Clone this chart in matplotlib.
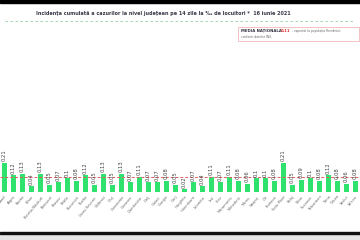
import matplotlib.pyplot as plt
import matplotlib.patches as patches
import numpy as np

# judete (ordine alfabetica), valorile
judete = ['Arad', 'Argeș', 'Bacău', 'Bihor', 'Bistrița-Năsăud', 'Botoșani',
          'Brașov', 'Brăila', 'București', 'Buzău', 'Caraș-Severin', 'Călărași',
          'Cluj', 'Constanța', 'Covasna', 'Dâmbovița', 'Dolj', 'Galați',
          'Giurgiu', 'Gorj', 'Harghita', 'Hunedoara', 'Ialomița', 'Iași',
          'Ilfov', 'Maramureș', 'Mehedinți', 'Mureș', 'Neamț', 'Olt',
          'Prahova', 'Satu Mare', 'Sălaj', 'Sibiu', 'Suceava', 'Teleorman',
          'Timiș', 'Tulcea', 'Vaslui', 'Vâlcea']
incidenta = [0.21, 0.12, 0.13, 0.04, 0.13, 0.05, 0.07, 0.10, 0.08, 0.12,
             0.05, 0.13, 0.05, 0.13, 0.07, 0.11, 0.07, 0.07, 0.08, 0.05,
             0.02, 0.07, 0.04, 0.11, 0.07, 0.11, 0.08, 0.06, 0.10, 0.10,
             0.08, 0.21, 0.05, 0.09, 0.10, 0.08, 0.12, 0.08, 0.06, 0.08]
media_nationala = 0.11

title = 'Incidența cumulată a cazurilor la nivel județean pe 14 zile la ‰ de locuitori *  16 iunie 2021'

fig = plt.figure(figsize=(3.6, 2.4), dpi=100)
fig.patch.set_facecolor('white')

# benzi negre sus / jos
fig.patches.append(patches.Rectangle((0, 1 - 3 / 240), 1, 3 / 240, transform=fig.transFigure,
                                     color='black', zorder=0))
fig.patches.append(patches.Rectangle((0, 0), 1, 6 / 240, transform=fig.transFigure,
                                     color='#e6e6e6', zorder=0))
fig.patches.append(patches.Rectangle((0, 6 / 240), 1, 2.5 / 240, transform=fig.transFigure,
                                     color='#111111', zorder=0))

fig.text(0.453, 1 - 14 / 240, title, ha='center', va='center', fontsize=3.5,
         fontweight='bold', color='#3a3a4a')
fig.add_artist(plt.Line2D([0.015, 0.985], [1 - 21 / 240] * 2, transform=fig.transFigure,
                          color='#8fd0a0', lw=0.6, ls=(0, (3, 3))))

# caseta media nationala
fig.patches.append(patches.Rectangle((238 / 360, 1 - 41 / 240), 121 / 360, 14 / 240,
                                     transform=fig.transFigure, facecolor='white',
                                     edgecolor='#f0b8b8', lw=0.6))
fig.text(241 / 360, 1 - 31 / 240, 'MEDIA NAȚIONALĂ', fontsize=2.8, fontweight='bold',
         color='#333344', va='center')
fig.text(281 / 360, 1 - 31 / 240, '0,11', fontsize=2.8, fontweight='bold',
         color='#e03030', va='center')
fig.text(292 / 360, 1 - 31 / 240, '- raportat la populația României,', fontsize=2.2,
         color='#666666', va='center')
fig.text(241 / 360, 1 - 37 / 240, 'conform datelor INS.', fontsize=2.2,
         color='#666666', va='center')

ax = fig.add_axes([0, 48 / 240, 1, 0.2875])
x = np.arange(len(judete))
ax.bar(x, incidenta, width=0.56, color='#2fe26e', zorder=2)
ax.axhline(media_nationala, color='#e06060', lw=0.7, ls=(0, (3, 2)), zorder=3)
for xi, v in zip(x, incidenta):
    ax.text(xi, v + 0.012, f'{v:g}', rotation=90, ha='center', va='bottom',
            fontsize=3.8, color='#444444')
ax.set_xlim(-0.5, len(judete) - 0.5)
ax.set_ylim(0, 0.5)
ax.set_xticks(x)
ax.set_xticklabels(judete, rotation=50, ha='right', rotation_mode='anchor',
                   fontsize=2.6, color='#666666')
ax.tick_params(axis='x', length=0, pad=2)
ax.set_yticks([])
for s in ax.spines.values():
    s.set_visible(False)
ax.patch.set_alpha(0)

fig.savefig('out.png', dpi=100)
